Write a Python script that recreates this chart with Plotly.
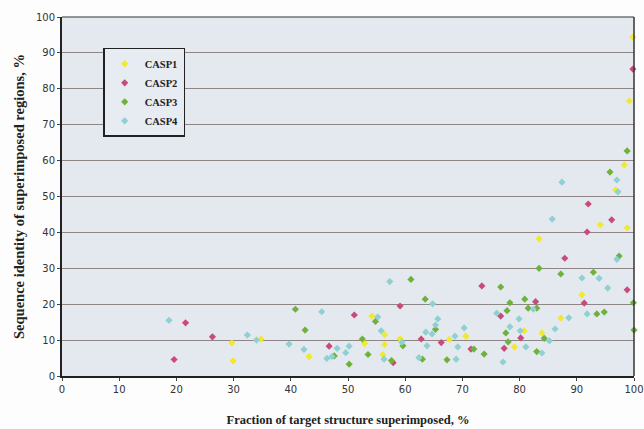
import plotly.graph_objects as go

casp1_x = [29.7, 29.9, 34.8, 43.2, 54.2, 52.9, 56.4, 56.4, 56.1, 59.1, 67.7, 70.6, 79.1, 80.8, 83.9, 87.2, 90.9, 83.4, 94.1, 98.8, 96.8, 98.3, 99.2, 99.8]
casp1_y = [9.2, 4.2, 10.3, 5.4, 16.7, 9.1, 11.5, 8.8, 5.9, 10.4, 10.2, 11.1, 8.1, 12.6, 12.0, 16.1, 22.6, 38.2, 42.1, 41.3, 51.8, 58.8, 76.6, 94.4]

casp2_x = [19.6, 21.6, 26.3, 46.7, 51.1, 57.9, 59.1, 62.8, 66.3, 71.5, 73.4, 76.7, 77.3, 80.2, 82.8, 87.9, 91.3, 91.8, 92.0, 96.1, 98.8, 99.8]
casp2_y = [4.6, 14.8, 10.9, 8.3, 17.0, 3.7, 19.5, 10.3, 9.3, 7.5, 25.1, 16.7, 7.7, 10.6, 20.7, 32.8, 20.3, 40.1, 47.9, 43.5, 24.0, 85.5]

casp3_x = [40.8, 42.5, 47.6, 50.2, 52.5, 53.5, 54.8, 57.6, 59.6, 61.0, 63.0, 63.5, 65.3, 67.3, 72.0, 73.8, 76.7, 77.6, 77.8, 78.0, 78.3, 80.9, 81.5, 83.0, 83.0, 83.4, 84.3, 87.2, 92.9, 93.5, 94.8, 95.8, 97.4, 98.8, 99.9, 100.0]
casp3_y = [18.6, 12.8, 5.6, 3.3, 10.3, 6.0, 15.2, 4.3, 8.4, 26.9, 4.7, 21.4, 13.0, 4.5, 7.5, 6.1, 24.8, 12.0, 18.2, 9.5, 20.4, 21.4, 18.9, 18.9, 6.8, 30.0, 10.5, 28.4, 28.9, 17.3, 17.8, 56.8, 33.4, 62.7, 20.4, 12.8]

casp4_x = [18.7, 32.4, 34.0, 39.7, 42.3, 45.4, 46.3, 47.2, 48.1, 49.6, 50.2, 55.2, 55.8, 56.3, 57.3, 59.4, 62.4, 63.6, 63.8, 64.7, 64.8, 65.3, 65.7, 68.7, 68.9, 69.2, 70.3, 76.0, 77.1, 78.3, 79.9, 80.1, 81.1, 82.4, 83.9, 85.2, 85.7, 86.2, 87.4, 88.6, 90.9, 91.8, 93.9, 95.4, 97.0, 97.0, 97.2]
casp4_y = [15.5, 11.4, 10.0, 8.9, 7.4, 17.9, 4.9, 5.4, 7.7, 6.5, 8.3, 16.4, 12.6, 4.7, 26.3, 9.4, 5.1, 12.2, 8.4, 11.7, 20.1, 14.2, 15.9, 11.1, 4.7, 8.1, 13.4, 17.5, 3.9, 13.7, 15.9, 12.6, 8.1, 18.6, 6.4, 9.8, 43.7, 13.1, 54.0, 16.2, 27.3, 17.3, 27.2, 24.5, 32.5, 54.6, 51.3]

series = [
    ("CASP1", casp1_x, casp1_y, "#f2e82c"),
    ("CASP2", casp2_x, casp2_y, "#c94a7c"),
    ("CASP3", casp3_x, casp3_y, "#6fb13c"),
    ("CASP4", casp4_x, casp4_y, "#8fd0d2"),
]

x_ticks = [0, 10, 20, 30, 40, 50, 60, 70, 80, 90, 100]
y_ticks = [0, 10, 20, 30, 40, 50, 60, 70, 80, 90, 100]

fig = go.Figure()
for name, xs, ys, col in series:
    fig.add_trace(go.Scatter(
        x=xs, y=ys, mode="markers", name="<b>" + name + "</b>",
        marker=dict(symbol="diamond", size=5.5, color=col, line=dict(width=0)),
        cliponaxis=False,
    ))

fig.update_layout(
    width=644, height=429,
    margin=dict(l=62, r=10, t=17, b=53),
    paper_bgcolor="#fdfdfd",
    plot_bgcolor="#e3e9ef",
    showlegend=True,
    legend=dict(
        x=0.072, y=0.914, xanchor="left", yanchor="top",
        bgcolor="#e6ecf1", bordercolor="#222222", borderwidth=1.5,
        font=dict(family="Liberation Serif", size=10.5, color="#222222"),
        tracegroupgap=0, itemwidth=30,
    ),
    xaxis=dict(
        range=[0, 100], tickvals=x_ticks, ticktext=[str(v) for v in x_ticks],
        showgrid=False, zeroline=False, automargin=False,
        showline=True, linecolor="#222222", linewidth=2,
        ticks="outside", ticklen=3, tickcolor="#444444",
        tickfont=dict(family="DejaVu Sans", size=10, color="#333333"),
        title=dict(text="<b>Fraction of target structure superimposed, %</b>",
                   font=dict(family="Liberation Serif", size=12.5, color="#222222"), standoff=21),
    ),
    yaxis=dict(
        range=[0, 100], tickvals=y_ticks, ticktext=[str(v) for v in y_ticks],
        showgrid=True, gridcolor="#8e8686", gridwidth=1, zeroline=False, automargin=False,
        showline=True, linecolor="#222222", linewidth=2,
        ticks="outside", ticklen=3, tickcolor="#444444",
        tickfont=dict(family="DejaVu Sans", size=10, color="#333333"),
        title=dict(text="<b>Sequence identity of superimposed regions, %</b>",
                   font=dict(family="Liberation Serif", size=14.5, color="#222222"), standoff=8),
    ),
    shapes=[
        dict(type="line", xref="paper", yref="paper", x0=0, x1=1, y0=1, y1=1,
             line=dict(color="#333333", width=1)),
        dict(type="line", xref="paper", yref="paper", x0=1, x1=1, y0=0, y1=1,
             line=dict(color="#333333", width=1.5)),
    ],
)

fig.write_html("out.html")
